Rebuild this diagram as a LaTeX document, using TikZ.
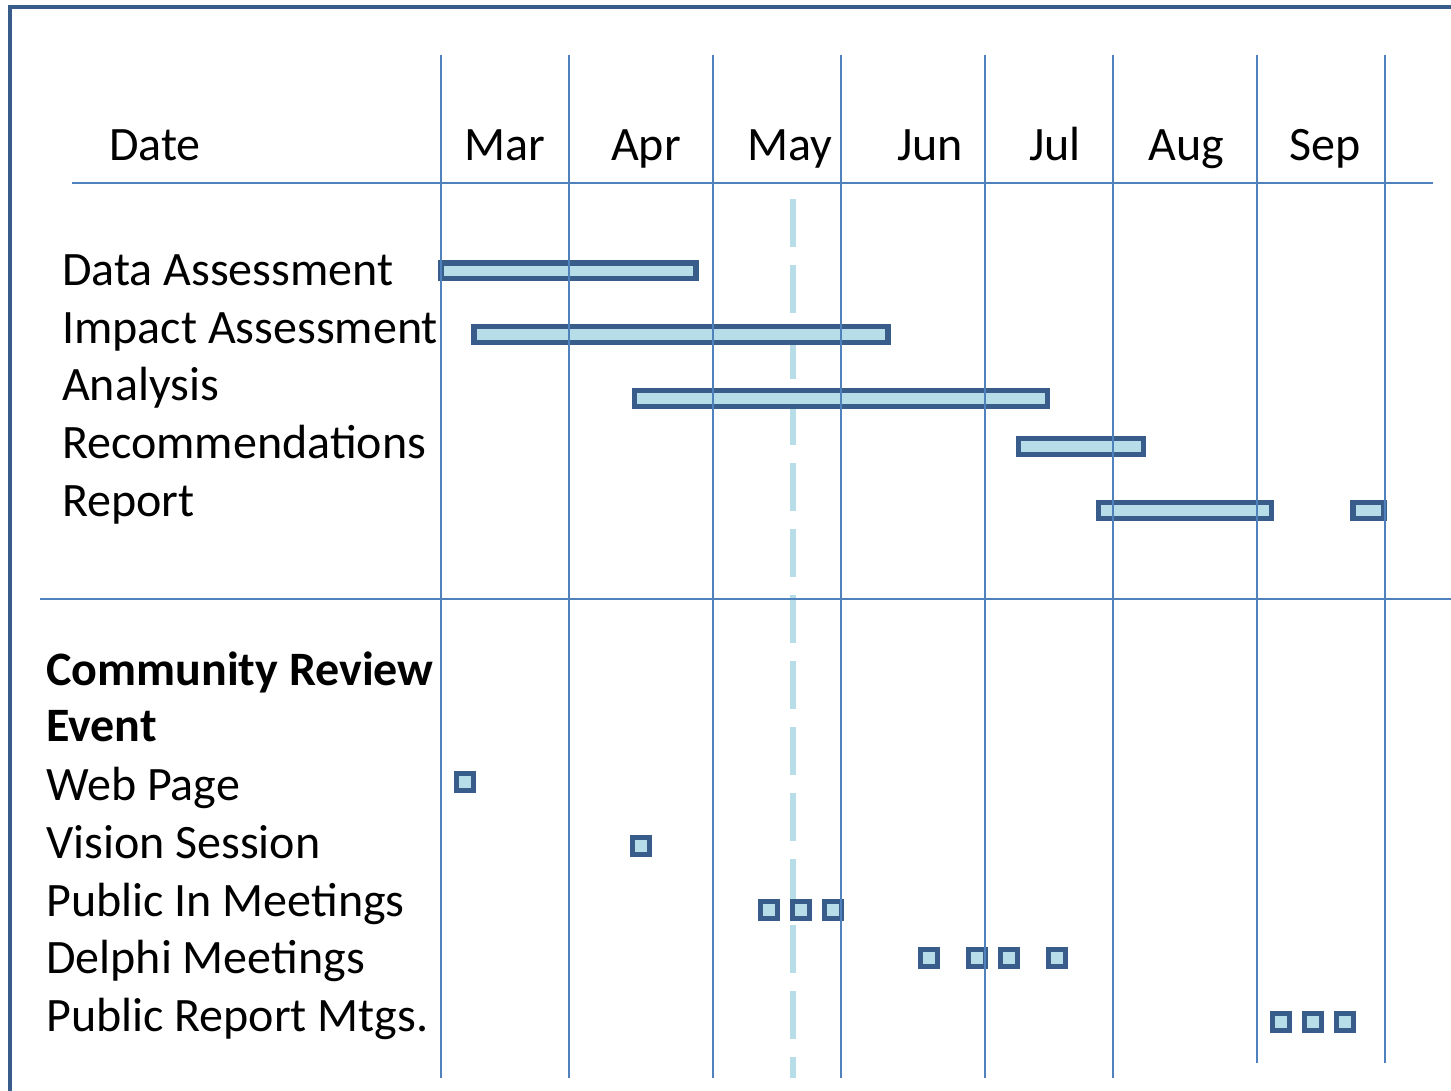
\documentclass[tikz,border=0pt]{standalone}
\usepackage{fontspec}
\setmainfont{Carlito}

\definecolor{gridblue}{HTML}{4F81BD}
\definecolor{darkblue}{HTML}{385D8A}
\definecolor{lightteal}{HTML}{B7DEE8}

\tikzset{
    frameline/.style={darkblue, line width=4pt, line join=miter},
    gridline/.style={gridblue, line width=2.2pt},
    todayline/.style={lightteal, line width=6pt, dash pattern=on 48pt off 18pt},
    taskbar/.style={draw=darkblue, fill=lightteal, line width=5.5pt},
    eventbox/.style={draw=darkblue, fill=lightteal, line width=5pt,
        rectangle, minimum size=17pt, inner sep=0pt},
    rowtext/.style={anchor=base west, inner sep=0pt,
        font=\fontsize{48}{56}\selectfont},
    monthtext/.style={anchor=base, inner sep=0pt,
        font=\fontsize{48}{56}\selectfont}
}

\begin{document}
\begin{tikzpicture}[x=1pt, y=-1pt]
    \useasboundingbox (0,0) rectangle (1451,1090);

    % frame
    \draw[frameline] (10,1092) -- (10,7) -- (1453,7);

    % header
    \node[monthtext] (date) at (155,160) {Date};
    \foreach \m/\x in {Mar/505, Apr/646, May/790, Jun/930,
                       Jul/1055, Aug/1186, Sep/1325}
        \node[monthtext] (m\m) at (\x,160) {\m};

    % tasks
    \node[rowtext] (dataA)   at (62,285) {Data Assessment};
    \node[rowtext] (impactA) at (62,343) {Impact Assessment};
    \node[rowtext] (analys)  at (62,400) {Analysis};
    \node[rowtext] (recom)   at (62,458) {Recommendations};
    \node[rowtext] (report)  at (62,516) {Report};

    % events
    \node[rowtext] (crev)    at (46,685) {\bfseries Community Review};
    \node[rowtext] (event)   at (46,741) {\bfseries Event};
    \node[rowtext] (webpg)   at (46,800) {Web Page};
    \node[rowtext] (vision)  at (46,858) {Vision Session};
    \node[rowtext] (pubin)   at (46,916) {Public In Meetings};
    \node[rowtext] (delphi)  at (46,973) {Delphi Meetings};
    \node[rowtext] (pubrep)  at (46,1031) {Public Report Mtgs.};

    % today
    \draw[todayline] (793,199) -- (793,1078);

    % bars
    \draw[taskbar] (441,263) rectangle (696,278.5);
    \draw[taskbar] (474,326.5) rectangle (888,342.5);
    \draw[taskbar] (634.5,390.5) rectangle (1047.5,406.5);
    \draw[taskbar] (1018.5,438.5) rectangle (1143.5,454.5);
    \draw[taskbar] (1098.5,502.5) rectangle (1271.5,518.5);
    \draw[taskbar] (1353,502.5) rectangle (1384,518.5);

    % event boxes
    \node[eventbox] (w1) at (465,782) {};
    \node[eventbox] (v1) at (641,846) {};
    \foreach \x [count=\i] in {769,801,833}
        \node[eventbox] (p\i) at (\x,910) {};
    \foreach \x [count=\i] in {929,977,1009,1057}
        \node[eventbox] (d\i) at (\x,958) {};
    \foreach \x [count=\i] in {1281,1313,1345}
        \node[eventbox] (r\i) at (\x,1022) {};

    % grid
    \draw[gridline] (72,183) -- (1433,183);
    \draw[gridline] (40,599) -- (1451,599);
    \foreach \x in {441,569,713,841,985,1113}
        \draw[gridline] (\x,55) -- (\x,1078);
    \foreach \x in {1257,1385}
        \draw[gridline] (\x,55) -- (\x,1063);
\end{tikzpicture}
\end{document}
